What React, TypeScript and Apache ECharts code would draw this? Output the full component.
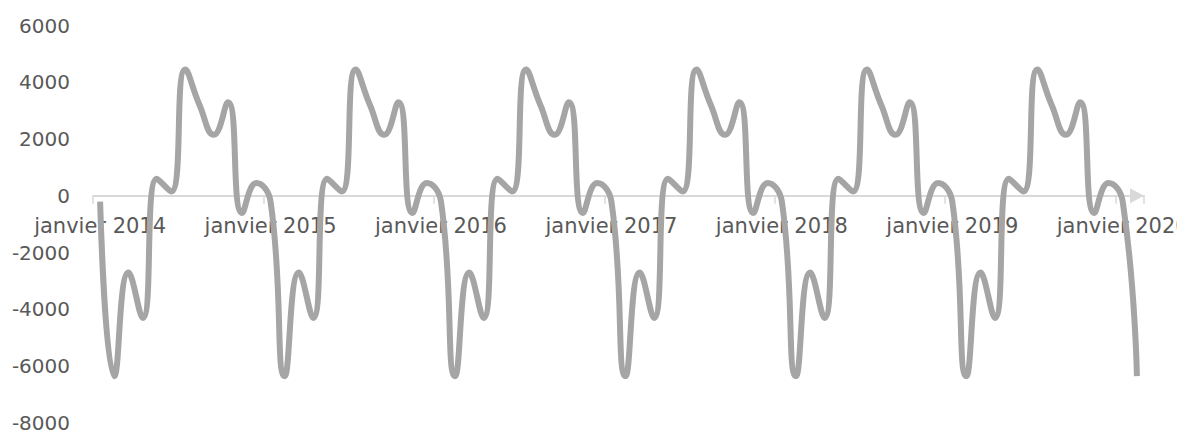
import React, { useEffect, useRef } from "react";
import * as echarts from "echarts";

const monthNames = ["janvier", "février", "mars", "avril", "mai", "juin", "juillet", "août", "septembre", "octobre", "novembre", "décembre"];
const years = [2014, 2015, 2016, 2017, 2018, 2019, 2020];
const monthCount = 74; // janvier 2014 .. février 2020

const categories: string[] = [];
for (let i = 0; i < monthCount; i++) {
  categories.push(monthNames[i % 12] + " " + years[Math.floor(i / 12)]);
}

const values = [
  -200, -6350, -2700, -4300, 600, 150, 4450, 3200, 2150, 3300, -600, 450,
  -200, -6350, -2700, -4300, 600, 150, 4450, 3200, 2150, 3300, -600, 450,
  -200, -6350, -2700, -4300, 600, 150, 4450, 3200, 2150, 3300, -600, 450,
  -200, -6350, -2700, -4300, 600, 150, 4450, 3200, 2150, 3300, -600, 450,
  -200, -6350, -2700, -4300, 600, 150, 4450, 3200, 2150, 3300, -600, 450,
  -200, -6350, -2700, -4300, 600, 150, 4450, 3200, 2150, 3300, -600, 450,
  -200, -6350,
];

const yMin = -8000;
const yMax = 6000;
const yStep = 2000;

const GRID_TOP = 25.5;
const GRID_BOTTOM = 11;
const H = 434;

export default function App() {
  const ref = useRef<HTMLDivElement>(null);
  useEffect(() => {
    if (!ref.current) return;
    const chart = echarts.init(ref.current, null, { renderer: "svg" });
    const font = "'DejaVu Sans', Verdana, sans-serif";
    const gridH = H - GRID_TOP - GRID_BOTTOM;
    const zeroFromBottom = (0 - yMin) / (yMax - yMin) * gridH;
    chart.setOption({
      animation: false,
      grid: { left: 93, right: 33, top: GRID_TOP, bottom: GRID_BOTTOM, containLabel: false, outerBoundsMode: "none" },
      xAxis: {
        type: "category",
        data: categories,
        boundaryGap: true,
        position: "bottom",
        offset: -zeroFromBottom,
        axisLine: {
          onZero: false,
          symbol: ["none", "triangle"],
          symbolSize: [15, 14],
          symbolOffset: [0, -7],
          lineStyle: { color: "#D9D9D9", width: 2 },
        },
        axisTick: { show: true, interval: 11, length: 8, lineStyle: { color: "#D9D9D9", width: 1.5 } },
        axisLabel: {
          interval: 11,
          margin: 20,
          color: "#595959",
          fontSize: 21,
          fontFamily: font,
        },
        splitLine: { show: false },
      },
      yAxis: {
        type: "value",
        min: yMin,
        max: yMax,
        interval: yStep,
        axisLine: { show: false },
        axisTick: { show: false },
        splitLine: { show: false },
        axisLabel: {
          margin: 23,
          color: "#595959",
          fontSize: 20,
          fontFamily: font,
          formatter: (v: number) => String(v),
        },
      },
      series: [
        {
          type: "line",
          data: values,
          smooth: 0.5,
          symbol: "none",
          lineStyle: { color: "#A5A5A5", width: 6, cap: "butt" },
        },
      ],
    });
    return () => chart.dispose();
  }, []);
  return <div ref={ref} style={{ width: 1177, height: 434, position: "absolute", left: 0, top: 0 }} />;
}
